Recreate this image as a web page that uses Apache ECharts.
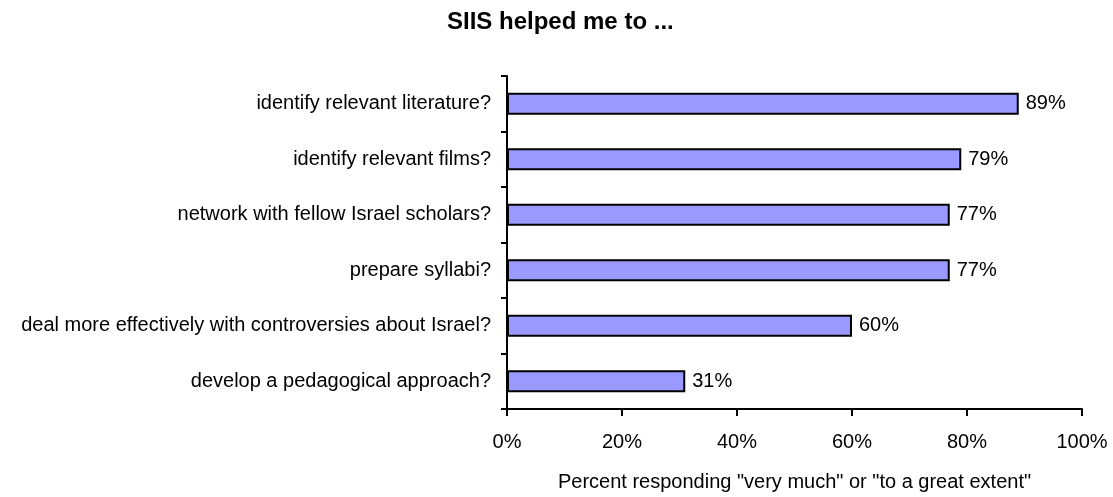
<!DOCTYPE html>
<html>
<head>
<meta charset="utf-8">
<script src="https://cdn.jsdelivr.net/npm/echarts@6/dist/echarts.min.js"></script>
<style>
html,body{margin:0;padding:0;background:#fff;}
#chart{width:1113px;height:497px;}
</style>
</head>
<body>
<div id="chart"></div>
<script>
const titleText = 'SIIS helped me to ...';
const categories = [
  'identify relevant literature?',
  'identify relevant films?',
  'network with fellow Israel scholars?',
  'prepare syllabi?',
  'deal more effectively with controversies about Israel?',
  'develop a pedagogical approach?'
];
const values = [89, 79, 77, 77, 60, 31];
const xAxisName = 'Percent responding "very much" or "to a great extent"';

const FONT = '"Liberation Sans", Arial, sans-serif';
const chart = echarts.init(document.getElementById('chart'), null, {renderer: 'canvas'});
chart.setOption({
  animation: false,
  backgroundColor: '#ffffff',
  title: {
    text: titleText,
    left: 447,
    top: 10,
    padding: 0,
    textStyle: {fontFamily: FONT, fontWeight: 'bold', fontSize: 24, color: '#000'}
  },
  grid: {left: 507, right: 31, top: 76, bottom: 85, containLabel: false},
  xAxis: {
    type: 'value',
    min: 0, max: 100, interval: 20,
    name: xAxisName,
    nameLocation: 'middle',
    nameGap: 63,
    nameTextStyle: {fontFamily: FONT, fontSize: 20, color: '#000'},
    axisLine: {show: true, lineStyle: {color: '#000', width: 2}},
    axisTick: {show: true, length: 7, lineStyle: {color: '#000', width: 2}},
    axisLabel: {formatter: '{value}%', margin: 23, fontFamily: FONT, fontSize: 20, color: '#000'},
    splitLine: {show: false}
  },
  yAxis: {
    type: 'category',
    data: categories,
    inverse: true,
    axisLine: {show: true, lineStyle: {color: '#000', width: 2}},
    axisTick: {show: true, length: 6, lineStyle: {color: '#000', width: 2}},
    axisLabel: {margin: 16, fontFamily: FONT, fontSize: 20, color: '#000'},
    splitLine: {show: false}
  },
  series: [{
    type: 'bar',
    data: values,
    barWidth: 22,
    itemStyle: {color: '#9999FF', borderColor: '#000', borderWidth: 2},
    label: {
      show: true, position: 'right', distance: 7,
      formatter: '{c}%', fontFamily: FONT, fontSize: 20, color: '#000'
    }
  }]
});
</script>
</body>
</html>
